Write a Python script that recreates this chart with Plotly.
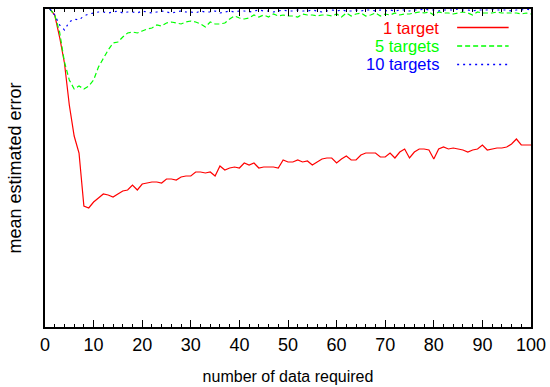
import plotly.graph_objects as go

# number of data points required (x) and mean estimated error per setting
n_data = list(range(1, 101))

err_1_target = [
    318, 312, 290, 264, 222, 191, 174, 121, 119, 125,
    129, 133, 132, 130, 133, 136, 137, 142, 137, 143,
    144, 145, 145, 144, 148, 148, 147, 150, 151, 151,
    155, 155, 154, 155, 151, 161, 157, 159, 160, 159,
    164, 162, 164, 159, 160, 160, 160, 159, 167, 165,
    165, 167, 165, 166, 162, 165, 168, 169, 169, 164,
    168, 171, 167, 167, 172, 174, 174, 174, 170, 170,
    174, 169, 175, 178, 169, 175, 178, 178, 177, 168,
    178, 180, 178, 179, 178, 177, 175, 177, 178, 182,
    177, 178, 179, 179, 180, 183, 188, 182, 182, 182,
]

err_5_targets = [
    318, 312, 295, 265, 247, 238, 241, 238, 241, 247,
    260, 269, 277, 284, 285, 290, 294, 295, 294, 296,
    298, 299, 302, 301, 304, 305, 304, 303, 305, 306,
    305, 303, 300, 305, 303, 303, 304, 308, 311, 309,
    308, 309, 312, 310, 312, 310, 313, 311, 312, 311,
    311, 310, 313, 312, 312, 311, 312, 312, 311, 313,
    310, 314, 311, 313, 314, 311, 312, 314, 311, 313,
    312, 314, 312, 313, 313, 314, 315, 314, 315, 312,
    315, 314, 314, 313, 314, 315, 314, 312, 315, 314,
    314, 314, 315, 314, 314, 314, 314, 313, 314, 313,
]

err_10_targets = [
    318, 312, 302, 297, 305, 308, 307, 311, 313, 314,
    315, 315, 314, 315, 316, 314, 315, 315, 314, 316,
    315, 314, 315, 316, 315, 314, 315, 316, 315, 315,
    314, 316, 315, 315, 316, 314, 315, 316, 315, 316,
    316, 315, 316, 317, 316, 316, 315, 316, 317, 316,
    316, 317, 316, 316, 317, 316, 315, 316, 317, 316,
    317, 316, 316, 317, 316, 317, 317, 316, 317, 316,
    317, 316, 317, 317, 316, 317, 317, 318, 317, 317,
    316, 317, 317, 317, 318, 317, 317, 316, 317, 317,
    317, 318, 317, 317, 317, 316, 317, 317, 318, 317,
]

series_names = ["1 target", "5 targets", "10 targets"]
series_values = [err_1_target, err_5_targets, err_10_targets]
series_colors = ["#ff0000", "#00ff00", "#0000ff"]
series_dash = ["solid", "5px,3px", "2px,4px"]

FONT = "Liberation Sans, Arial, Helvetica, sans-serif"

fig = go.Figure()
for name, vals, col, dash in zip(series_names, series_values, series_colors, series_dash):
    fig.add_trace(go.Scatter(
        x=n_data, y=vals, mode="lines", name=name,
        line=dict(color=col, width=1.2, dash=dash),
        showlegend=False,
    ))

# key in the upper right: right-aligned label, then a line sample
key_rows_y = [0.9418, 0.8836, 0.8255]
for name, col, dash, ky in zip(series_names, series_colors, series_dash, key_rows_y):
    fig.add_annotation(
        x=0.813, y=ky, xref="paper", yref="paper",
        text=name, showarrow=False, xanchor="right", yanchor="middle",
        borderpad=0,
        font=dict(family=FONT, size=16.5, color=col),
    )
    fig.add_shape(
        type="line", xref="paper", yref="paper", layer="above",
        x0=0.848, x1=0.954, y0=ky, y1=ky,
        line=dict(color=col, width=1.3, dash=dash),
    )

fig.update_layout(
    width=550, height=387,
    margin=dict(l=45, r=19, t=9, b=60),
    paper_bgcolor="white", plot_bgcolor="white",
    font=dict(family=FONT, size=16, color="black"),
    xaxis=dict(
        range=[0, 100], dtick=10, tick0=0, automargin=False,
        showline=True, linecolor="black", linewidth=1.5, mirror="ticks",
        ticks="inside", ticklen=7, tickwidth=1, tickcolor="black",
        minor=dict(dtick=2, ticks="inside", ticklen=3.5, tickwidth=1, tickcolor="black"),
        showgrid=False, zeroline=False,
        tickfont=dict(size=18), ticklabelstandoff=1,
        title=dict(text="number of data required", font=dict(size=16), standoff=16),
    ),
    yaxis=dict(
        range=[0, 318], automargin=False,
        showline=True, linecolor="black", linewidth=1.5, mirror=True,
        ticks="", showticklabels=False, showgrid=False, zeroline=False,
        title=dict(text="mean estimated error", font=dict(size=18), standoff=17),
    ),
)

fig.write_html("out.html")
